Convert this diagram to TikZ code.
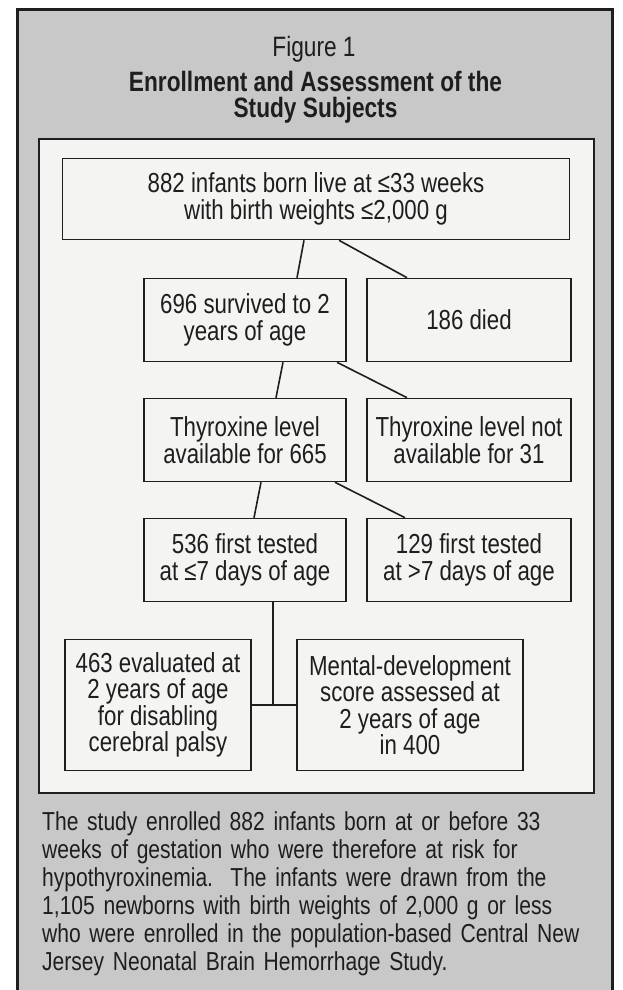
\documentclass[tikz,border=0pt]{standalone}
\usepackage{fontspec}
\setmainfont{Liberation Sans}[FakeStretch=0.81]
\usepackage{xcolor}
\usepackage{tikz}

\definecolor{panelgray}{RGB}{200,200,200}
\definecolor{paper}{RGB}{244,244,242}
\definecolor{ink}{RGB}{30,30,30}

\begin{document}
\begin{tikzpicture}[x=1pt, y=-1pt,
	flowbox/.style={draw=ink, line width=1.6pt, fill=paper, inner sep=2pt, align=center,
		text=ink, font=\fontsize{27.5}{26.5}\selectfont},
	link/.style={draw=ink, line width=1.6pt}]
		\useasboundingbox (0,0) rectangle (622,990);
		\fill[panelgray] (17,10) rectangle (612,990);
		\draw[ink, line width=3pt] (17,990) -- (17,10) -- (612,10) -- (612,990);
		\filldraw[draw=ink, fill=paper, line width=2pt] (39,139) rectangle (594,793);
		\node[text=ink, font=\fontsize{28}{30}\selectfont] (fig) at (314,49) {Figure 1};
		\node[text=ink, align=center, font=\fontsize{28}{26.5}\bfseries\selectfont] (ttl) at (315.5,97.5) {Enrollment and Assessment of the\\Study Subjects};
		\node[flowbox, minimum width=507pt, minimum height=81pt] (born) at (316,199) {882 infants born live at \char"2264 33 weeks\\with birth weights \char"2264 2,000 g};
		\node[flowbox, minimum width=202pt, minimum height=83pt] (surv) at (245,320) {696 survived to 2\\years of age};
		\node[flowbox, minimum width=204pt, minimum height=83pt] (died) at (469,320) {186 died};
		\node[flowbox, minimum width=202pt, minimum height=83pt] (thyr) at (245,440) {Thyroxine level\\available for 665};
		\node[flowbox, minimum width=204pt, minimum height=83pt] (nothyr) at (469,440) {Thyroxine level not\\available for 31};
		\node[flowbox, minimum width=202pt, minimum height=83pt] (early) at (245,560) {536 first tested\\at \char"2264 7 days of age};
		\node[flowbox, minimum width=204pt, minimum height=83pt] (late) at (469,560) {129 first tested\\at >7 days of age};
		\node[flowbox, minimum width=186pt, minimum height=131pt] (palsy) at (158,705) {463 evaluated at\\2 years of age\\for disabling\\cerebral palsy};
		\node[flowbox, minimum width=226pt, minimum height=131pt] (mental) at (410,705) {Mental-development\\score assessed at\\2 years of age\\in 400};
		\draw[link] ([xshift=-12pt]born.south) -- ([xshift=52pt]surv.north);
		\draw[link] ([xshift=23pt]born.south) -- ([xshift=-62pt]died.north);
		\draw[link] ([xshift=38pt]surv.south) -- ([xshift=31pt]thyr.north);
		\draw[link] ([xshift=92pt]surv.south) -- ([xshift=-62pt]nothyr.north);
		\draw[link] ([xshift=16pt]thyr.south) -- ([xshift=9pt]early.north);
		\draw[link] ([xshift=90pt]thyr.south) -- ([xshift=-64pt]late.north);
		\coordinate (split) at ([xshift=28pt]early.south |- palsy.east);
		\draw[link] ([xshift=28pt]early.south) -- (split);
		\draw[link] (palsy.east) -- (mental.west);
		\node[anchor=west, text=ink, align=left, inner sep=0pt, text width=560pt,
			font=\fontsize{26}{28}\selectfont] (note) at (42,894) {The study enrolled 882 infants born at or before 33\\weeks of gestation who were therefore at risk for\\hypothyroxinemia.\ \ The infants were drawn from the\\1,105 newborns with birth weights of 2,000 g or less\\who were enrolled in the population-based Central New\\Jersey Neonatal Brain Hemorrhage Study.};
		\end{tikzpicture}
\end{document}
